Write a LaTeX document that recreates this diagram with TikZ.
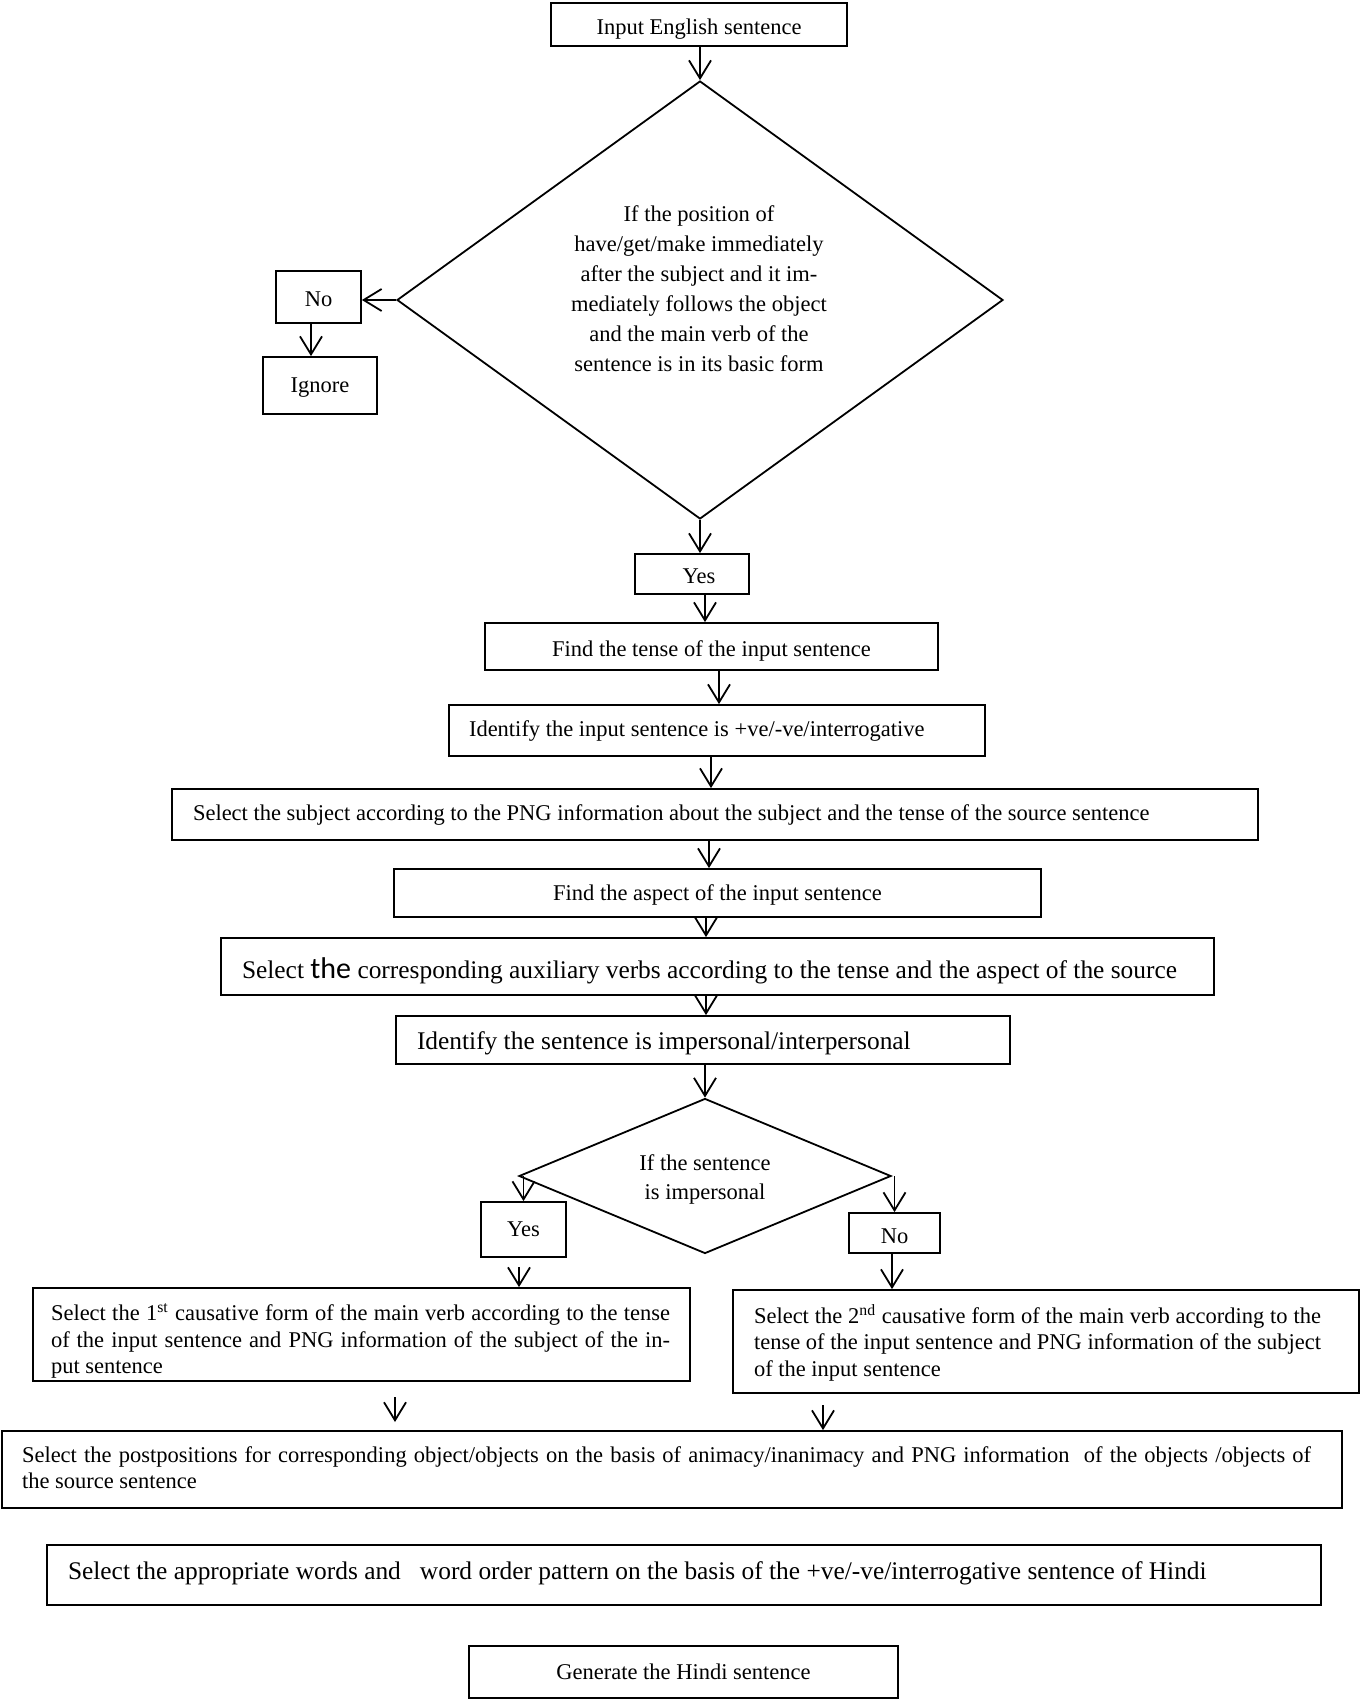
\documentclass[tikz,border=0pt]{standalone}
\usepackage{fontspec}
\setmainfont{Liberation Serif}
\newfontfamily\carl{Carlito}
\usetikzlibrary{arrows.meta,shapes.geometric}
\newcommand{\lpad}[3]{\makebox[#1][l]{\hspace*{#2}#3}}
\newcommand{\jline}[2]{\makebox[#1][s]{#2}}
\newcommand{\dn}[2]{\raisebox{-#1}[\height][\depth]{#2}}
\begin{document}
\begin{tikzpicture}[x=0.5pt,y=-0.5pt,
  box/.style={draw, line width=0.9pt, rectangle, inner sep=0pt, font=\fontsize{11.25}{15}\selectfont},
  bigtxt/.style={font=\fontsize{12.7}{15}\selectfont},
  dia/.style={draw, line width=0.9pt, diamond, inner sep=0pt},
  arr/.style={line width=0.9pt, -{Straight Barb[length=9pt,width=11pt]}},
  txt/.style={inner sep=0pt, align=center}
]
\useasboundingbox (0,0) rectangle (1363,1700);
\fill[white] (0,0) rectangle (1363,1700);

\node[box, minimum width=148pt, minimum height=21.5pt] (inp) at (699,24.5) {\dn{2.2pt}{Input English sentence}};
\node[dia, minimum width=303pt, minimum height=219pt, aspect=1.38] (d1) at (700,300) {};
\node[txt, font=\fontsize{11.25}{15}\selectfont] (d1t) at (699,288.5) {If the position of\\have/get/make immediately\\after the subject and it im-\\mediately follows the object\\and the main verb of the\\sentence is in its basic form};
\draw[arr] (inp.south -| d1.north) -- (d1.north);

\node[box, minimum width=42.5pt, minimum height=26pt] (no1) at (318.5,297) {\dn{1pt}{No}};
\node[box, minimum width=57pt, minimum height=28.5pt] (ign) at (320,385.5) {\dn{1pt}{Ignore}};
\draw[arr] (d1.west) -- (d1.west -| no1.east);
\draw[arr] ([xshift=-3.75pt]no1.south) -- ([xshift=-3.75pt]no1.south |- ign.north);

\node[box, minimum width=57pt, minimum height=20pt] (yes1) at (692,574) {\dn{1pt}{\makebox[57pt]{\hspace{7pt}Yes}}};
\draw[arr] (d1.south) -- (d1.south |- yes1.north);

\node[box, minimum width=226.5pt, minimum height=23.5pt] (ften) at (711.5,646.5) {\dn{2.2pt}{Find the tense of the input sentence}};
\draw[arr] ([xshift=6.5pt]yes1.south) -- ([xshift=6.5pt]yes1.south |- ften.north);

\node[box, minimum width=268pt, minimum height=25.5pt] (idpos) at (717,730.5) {\lpad{268pt}{10pt}{\dn{0.5pt}{Identify the input sentence is +ve/-ve/interrogative}}};
\draw[arr] ([xshift=3.75pt]ften.south) -- ([xshift=3.75pt]ften.south |- idpos.north);

\node[box, minimum width=543pt, minimum height=25.5pt] (subj) at (715,814.5) {\lpad{543pt}{10.5pt}{\dn{0.5pt}{Select the subject according to the PNG information about the subject and the tense of the source sentence}}};
\draw[arr] ([xshift=-3pt]idpos.south) -- ([xshift=-3pt]idpos.south |- subj.north);

\node[box, minimum width=323.5pt, minimum height=24pt] (asp) at (717.5,893) {\dn{1pt}{Find the aspect of the input sentence}};
\draw[arr] ([xshift=-3pt]subj.south) -- ([xshift=-3pt]subj.south |- asp.north);

\node[box, bigtxt, minimum width=496.5pt, minimum height=28.5pt] (aux) at (717.5,966.5) {\lpad{496.5pt}{10.5pt}{\dn{2pt}{Select {\carl\fontsize{15}{15}\selectfont the} corresponding auxiliary verbs according to the tense and the aspect of the source}}};
\draw[arr] ([xshift=-5.75pt]asp.south) -- ([xshift=-5.75pt]asp.south |- aux.north);

\node[box, bigtxt, minimum width=307pt, minimum height=24pt] (idimp) at (703,1040) {\lpad{307pt}{10.5pt}{\dn{1.6pt}{Identify the sentence is impersonal/interpersonal}}};
\draw[arr] ([xshift=-5.75pt]aux.south) -- ([xshift=-5.75pt]aux.south |- idimp.north);

\node[dia, minimum width=186pt, minimum height=77.5pt, aspect=2.4] (d2) at (705,1176) {};
\node[txt, font=\fontsize{11.25}{14.5}\selectfont] (d2t) at (705,1179) {If the sentence\\is impersonal};
\draw[arr] (d2.north |- idimp.south) -- (d2.north);

\node[box, minimum width=42.5pt, minimum height=27.5pt] (yes2) at (523.5,1229.5) {Yes};
\node[box, minimum width=45.5pt, minimum height=20pt] (no2) at (894.5,1233) {\dn{1.6pt}{No}};
\draw[arr] (yes2.north |- d2.west) -- (yes2.north);
\draw[arr] (no2.north |- d2.east) -- (no2.north);

\node[box, minimum width=328.5pt, minimum height=46.5pt] (caus1) at (361.5,1334.5) {\lpad{328.5pt}{9pt}{\dn{3.3pt}{\parbox{309.5pt}{\fontsize{11.25}{13.25}\selectfont\jline{309.5pt}{Select the 1\textsuperscript{st} causative form of the main verb according to the tense}\\\jline{309.5pt}{of the input sentence and PNG information of the subject of the in-}\\put sentence}}}};
\node[box, minimum width=313pt, minimum height=51.5pt] (caus2) at (1046,1341.5) {\lpad{313pt}{10.5pt}{\dn{0.5pt}{\parbox{283.5pt}{\fontsize{11.25}{13.25}\selectfont\jline{283.5pt}{Select the 2\textsuperscript{nd} causative form of the main verb according to the}\\\jline{283.5pt}{tense of the input sentence and PNG information of the subject}\\of the input sentence}}}};
\coordinate (y2s) at (519,1267);
\draw[arr] (y2s) -- (y2s |- caus1.north);
\draw[arr] ([xshift=-1.25pt]no2.south) -- ([xshift=-1.25pt]no2.south |- caus2.north);

\node[box, minimum width=670pt, minimum height=38.5pt] (post) at (672,1469.5) {\lpad{670pt}{10pt}{\dn{-1pt}{\parbox{644.5pt}{\fontsize{11.25}{13}\selectfont\jline{644.5pt}{Select the postpositions for corresponding object/objects on the basis of animacy/inanimacy and PNG information\ \ of the objects /objects of}\\the source sentence}}}};
\coordinate (c1a) at (395,1397);
\coordinate (c1b) at (395,1422);
\draw[arr] (c1a) -- (c1b);
\coordinate (c2a) at (823,1405);
\draw[arr] (c2a) -- (c2a |- post.north);

\node[box, bigtxt, minimum width=637pt, minimum height=30pt] (appr) at (684,1575) {\lpad{637pt}{10.5pt}{\dn{-1pt}{Select the appropriate words and\ \ \ word order pattern on the basis of the +ve/-ve/interrogative sentence of Hindi}}};
\node[box, minimum width=214.5pt, minimum height=26pt] (gen) at (683.5,1672) {Generate the Hindi sentence};
\end{tikzpicture}
\end{document}
